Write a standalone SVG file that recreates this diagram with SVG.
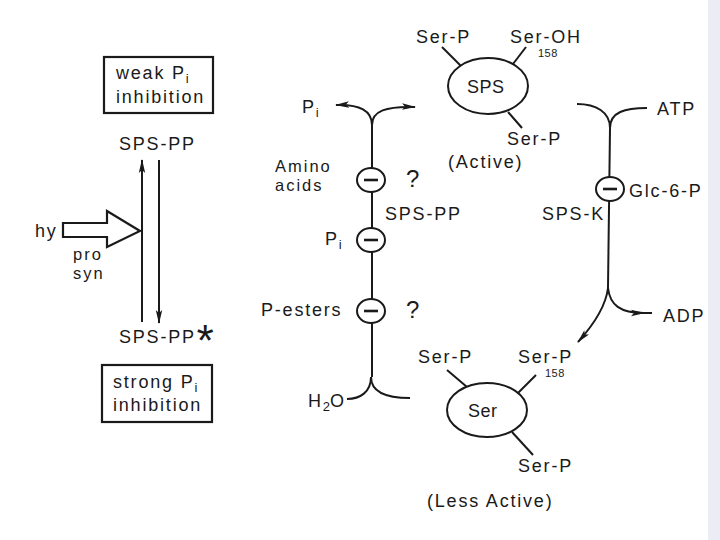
<svg xmlns="http://www.w3.org/2000/svg" width="720" height="540" viewBox="0 0 720 540">
<defs>
<style>
text{font-family:"Liberation Sans",Arial,sans-serif;font-size:18px;letter-spacing:1.8px;fill:#1a1a1a}
.tight{font-size:16.5px;letter-spacing:2px}
.sm{font-size:11px;letter-spacing:0.5px}
.sub{font-size:13px;letter-spacing:0}
.q{font-size:24px;letter-spacing:0}
.ln{fill:none;stroke:#1a1a1a;stroke-width:2}
.box{fill:none;stroke:#1a1a1a;stroke-width:2.2}
.inh{fill:#fff;stroke:#1a1a1a;stroke-width:2}
.mn{stroke:#1a1a1a;stroke-width:2.6}
</style>
<marker id="ah" viewBox="0 0 14 8" refX="13" refY="4" markerWidth="14" markerHeight="8" markerUnits="userSpaceOnUse" orient="auto">
<path d="M0,0.8 L14,4 L0,7.2 L3,4 z" fill="#1a1a1a"/>
</marker>
</defs>
<rect width="720" height="540" fill="#fff"/>
<rect x="708" y="0" width="12" height="540" fill="#ecedf4"/>

<g id="weak-box">
<rect class="box" x="104" y="57" width="109" height="56"/>
<text x="116" y="79">weak P<tspan class="sub" dy="4">i</tspan></text>
<text x="116" y="103">inhibition</text>
</g>
<g id="sps-pp-top"><text x="119" y="150">SPS-PP</text></g>
<g id="light">
<path d="M63,223 L107,223 L107,211 L140,231 L107,247 L107,237 L63,237 z" fill="#fff" stroke="#1a1a1a" stroke-width="2.2" stroke-linejoin="miter"/>
<text x="35" y="237">hy</text>
<text class="tight" x="73" y="260">pro</text>
<text class="tight" x="73" y="279">syn</text>
</g>
<g id="sps-pp-star"><text x="119" y="343">SPS-PP</text><text x="192" y="357" style="font-family:'Liberation Mono',monospace;font-size:44px;letter-spacing:0">*</text></g>
<g id="strong-box">
<rect class="box" x="102" y="365" width="110" height="57"/>
<text x="113" y="388">strong P<tspan class="sub" dy="4">i</tspan></text>
<text x="113" y="411">inhibition</text>
</g>

<g id="sps-active">
<ellipse class="ln" cx="488" cy="86" rx="40" ry="28"/>
<text x="467" y="93" style="letter-spacing:0.5px">SPS</text>
<line class="ln" x1="442" y1="47" x2="461" y2="66"/>
<line class="ln" x1="526" y1="47" x2="513" y2="64"/>
<line class="ln" x1="508" y1="112" x2="522" y2="128"/>
<text x="416" y="43">Ser-P</text>
<text x="510" y="43">Ser-OH</text>
<text class="sm" x="538" y="57">158</text>
<text x="507" y="145">Ser-P</text>
<text x="448" y="168">(Active)</text>
</g>

<g id="ser-less-active">
<ellipse class="ln" cx="487" cy="410" rx="40" ry="27"/>
<text x="468" y="417" style="letter-spacing:0.5px">Ser</text>
<line class="ln" x1="447" y1="370" x2="467" y2="387"/>
<line class="ln" x1="536" y1="375" x2="518" y2="393"/>
<line class="ln" x1="512" y1="432" x2="533" y2="455"/>
<text x="418" y="363">Ser-P</text>
<text x="518" y="363">Ser-P</text>
<text class="sm" x="545" y="377">158</text>
<text x="518" y="472">Ser-P</text>
<text x="427" y="507">(Less Active)</text>
</g>

<g id="connectors">
<line class="ln" x1="142" y1="322" x2="142" y2="160" marker-end="url(#ah)"/>
<line class="ln" x1="159" y1="160" x2="159" y2="323" marker-end="url(#ah)"/>
<path class="ln" d="M372,125 C372,111 360,104 336,105" marker-end="url(#ah)"/>
<path class="ln" d="M372,125 C372,111 386,106 415,107" marker-end="url(#ah)"/>
<line class="ln" x1="372" y1="125" x2="372" y2="377"/>
<path class="ln" d="M371,377 C371,392 360,399 347,399"/>
<path class="ln" d="M371,377 C371,392 385,398 410,398"/>
<path class="ln" d="M610,128 C610,112 596,104 577,104"/>
<path class="ln" d="M610,128 C610,112 625,108 647,108"/>
<line class="ln" x1="610" y1="128" x2="608" y2="288"/>
<path class="ln" d="M608,288 C606,305 596,322 578,342" marker-end="url(#ah)"/>
<path class="ln" d="M608,288 C610,305 620,313 644,313" marker-end="url(#ah)"/>
<line class="ln" x1="640" y1="313" x2="652" y2="313"/>
</g>

<g id="inh-amino">
<ellipse class="inh" cx="371" cy="180" rx="14" ry="12"/>
<line class="mn" x1="364" y1="180" x2="378" y2="180"/>
<text class="tight" x="275" y="172">Amino</text>
<text class="tight" x="275" y="191">acids</text>
<text class="q" x="406" y="187">?</text>
</g>
<g id="sps-pp-mid"><text x="385" y="220">SPS-PP</text></g>
<g id="inh-pi">
<ellipse class="inh" cx="371" cy="240" rx="14" ry="12"/>
<line class="mn" x1="364" y1="240" x2="378" y2="240"/>
<text x="325" y="245">P<tspan class="sub" dy="4">i</tspan></text>
</g>
<g id="inh-pesters">
<ellipse class="inh" cx="371" cy="311" rx="14" ry="12"/>
<line class="mn" x1="364" y1="311" x2="378" y2="311"/>
<text x="261" y="316">P-esters</text>
<text class="q" x="406" y="318">?</text>
</g>
<g id="pi-out"><text x="302" y="113">P<tspan class="sub" dy="4">i</tspan></text></g>
<g id="h2o"><text x="308" y="407">H<tspan class="sub" dy="4">2</tspan><tspan dy="-4">O</tspan></text></g>
<g id="inh-glc6p">
<ellipse class="inh" cx="610" cy="189" rx="14" ry="12"/>
<line class="mn" x1="603" y1="189" x2="617" y2="189"/>
<text x="629" y="197">Glc-6-P</text>
</g>
<g id="sps-k"><text x="542" y="220">SPS-K</text></g>
<g id="atp"><text x="657" y="115">ATP</text></g>
<g id="adp"><text x="663" y="322">ADP</text></g>
</svg>
